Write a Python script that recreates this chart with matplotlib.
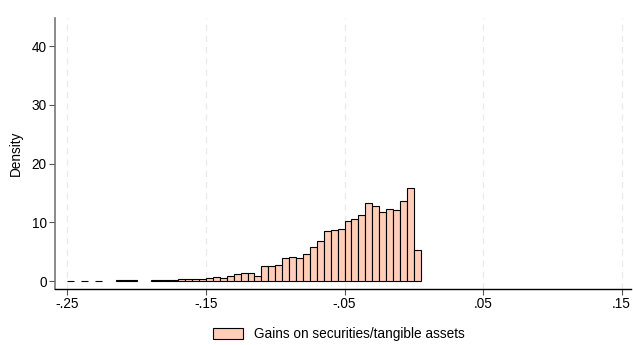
import numpy as np
import matplotlib
matplotlib.use("Agg")
import matplotlib.pyplot as plt
from matplotlib.patches import Patch

plt.rcParams['font.family'] = ['Liberation Sans', 'DejaVu Sans']

# Histogram data (bin width 0.005, left edges from -0.25)
bin_width = 0.005
bin_left = np.round(np.arange(-0.25, 0.0049, bin_width), 4)
density = [
    0.0, np.nan, 0.0, np.nan, 0.0, np.nan, np.nan, 0.15, 0.1, 0.15,
    np.nan, np.nan, 0.1, 0.1, 0.25, 0.2, 0.35, 0.3, 0.35, 0.4,
    0.5, 0.74, 0.57, 0.8, 1.14, 1.3, 1.4, 0.9, 2.5, 2.6,
    2.8, 3.86, 4.1, 3.86, 4.6, 5.85, 6.8, 8.46, 8.7, 8.8,
    10.2, 10.6, 11.2, 13.3, 12.8, 11.75, 12.2, 12.15, 13.6, 15.85,
    5.33,
]
x_ticks = [-0.25, -0.15, -0.05, 0.05, 0.15]
x_ticklabels = ['-.25', '-.15', '-.05', '.05', '.15']
y_ticks = [0, 10, 20, 30, 40]
legend_label = 'Gains on securities/tangible assets'

fill = '#ffcdb8'
fs = 9.8

fig = plt.figure(figsize=(6.33, 3.45), dpi=100)
ax = fig.add_axes([0.0869, 0.1623, 0.997 - 0.0869, 0.948 - 0.1623])

ax.bar(bin_left, density, width=bin_width, align='edge', color=fill,
       edgecolor='black', linewidth=0.8, zorder=3)

ax.set_xlim(-0.259, 0.1569)
ax.set_ylim(-1.36, 44.8)

ax.set_xticks(x_ticks)
ax.set_xticklabels(x_ticklabels)
ax.set_yticks(y_ticks)
for xt in x_ticks:
    ax.axvline(xt, color='#eaeaea', linestyle=(0, (5, 4)), linewidth=0.9, zorder=0)

for s in ['top', 'right']:
    ax.spines[s].set_visible(False)
ax.spines['left'].set_color('#777777')
ax.spines['left'].set_linewidth(1.2)
ax.spines['bottom'].set_color('black')
ax.spines['bottom'].set_linewidth(1.0)

ax.tick_params(axis='y', direction='out', length=4, width=0.8, color='#555555',
               labelsize=fs, pad=2)
ax.tick_params(axis='x', direction='out', length=4, width=0.8, color='#555555',
               labelsize=fs, pad=2)
ax.set_ylabel('Density', fontsize=fs, labelpad=6)

handle = Patch(facecolor=fill, edgecolor='black', linewidth=0.8)
fig.legend([handle], [legend_label], loc='lower center', bbox_to_anchor=(0.535, -0.025),
           frameon=False, fontsize=fs, handlelength=2.2, handleheight=0.85,
           handletextpad=0.8)

fig.savefig('out.png', dpi=100)
